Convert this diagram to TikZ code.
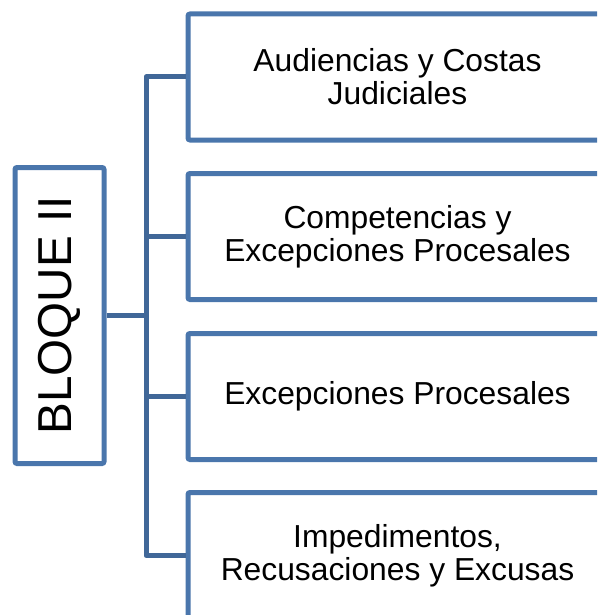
\documentclass[tikz,border=0pt]{standalone}
\usepackage{fontspec}
\setmainfont{Liberation Sans}
\definecolor{boxblue}{RGB}{74,118,172}
\definecolor{busblue}{RGB}{64,103,152}
\begin{document}
\begin{tikzpicture}[x=1pt,y=-1pt,
  box/.style={draw=boxblue, line width=5pt, rounded corners=2pt, fill=white,
    minimum width=419pt, minimum height=126pt, inner sep=0pt, align=center,
    font=\fontsize{31.8}{33}\selectfont},
  rootbox/.style={draw=boxblue, line width=5pt, rounded corners=2pt, fill=white,
    minimum width=89pt, minimum height=296pt, inner sep=0pt},
  conn/.style={draw=busblue, line width=5pt, line join=round}]
\useasboundingbox (0,0) rectangle (597,615);
\clip (0,0) rectangle (597,615);
\node[rootbox] (root) at (59.5,315.5) {};
\coordinate (bus) at (146,315.5);
\node[rotate=90, font=\fontsize{47.6}{50}\selectfont, inner sep=0pt] (rootlbl) at (root.center) {BLOQUE II};
\node[box] (b1) at (397.5,77) {Audiencias y Costas\\Judiciales};
\node[box] (b2) at (397.5,236.5) {Competencias y\\Excepciones Procesales};
\node[box] (b3) at (397.5,396.5) {Excepciones Procesales};
\node[box] (b4) at (397.5,555.5) {Impedimentos,\\Recusaciones y Excusas};
\draw[conn] (b1.west) -| (bus) |- (b4.west);
\draw[conn] (root.east) -- (bus);
\draw[conn] (b2.west -| bus) -- (b2.west);
\draw[conn] (b3.west -| bus) -- (b3.west);
\end{tikzpicture}
\end{document}
